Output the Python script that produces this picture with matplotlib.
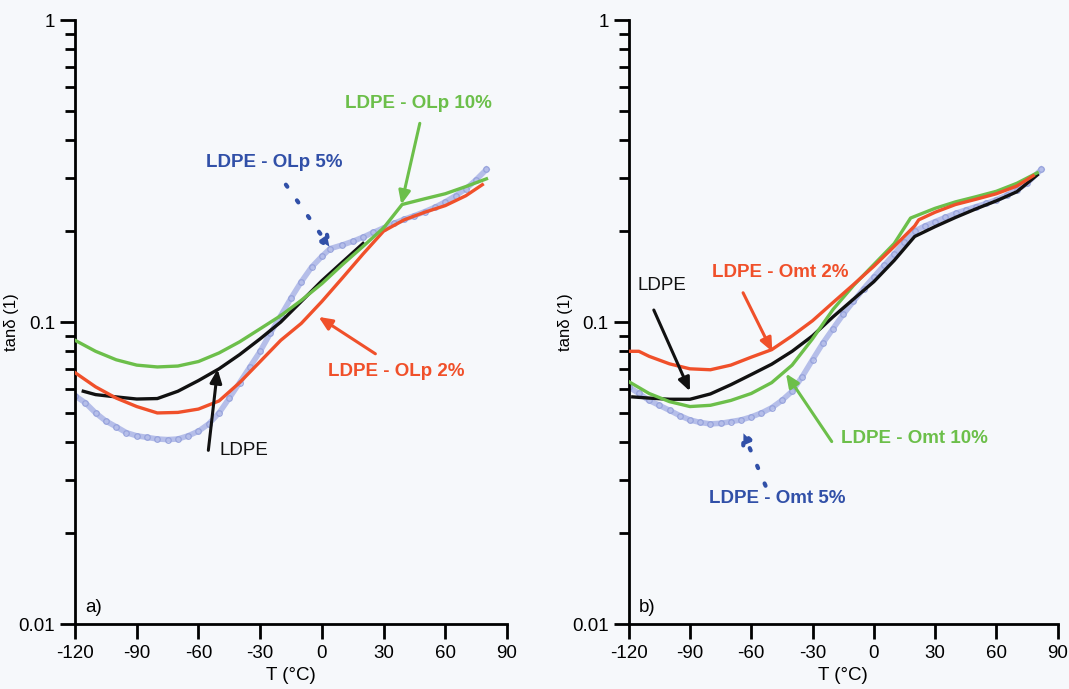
import numpy as np
import matplotlib.pyplot as plt
from matplotlib.ticker import FixedLocator, NullFormatter

plt.rcParams['font.family'] = ['Liberation Sans', 'DejaVu Sans']
plt.rcParams['axes.unicode_minus'] = False

# ---- panel a) : LDPE / OLp ----
T_a_ldpe = [-116, -110, -100, -90, -80, -70, -60, -50, -40, -30, -20, -10, 0, 10, 20]
y_a_ldpe = [0.059, 0.0575, 0.0565, 0.0556, 0.0558, 0.059, 0.064, 0.070, 0.078, 0.088, 0.100, 0.117, 0.137, 0.158, 0.182]

T_a_2 = [-120, -110, -100, -90, -80, -70, -60, -50, -40, -30, -20, -10, 0, 10, 20, 30, 40, 50, 60, 70, 78]
y_a_2 = [0.068, 0.061, 0.056, 0.0525, 0.050, 0.0502, 0.0515, 0.0548, 0.063, 0.074, 0.087, 0.099, 0.117, 0.140, 0.168, 0.200, 0.218, 0.231, 0.243, 0.262, 0.285]

T_a_10 = [-120, -110, -100, -90, -80, -70, -60, -50, -40, -30, -20, -10, 0, 10, 20, 30, 39, 42, 50, 60, 70, 80]
y_a_10 = [0.087, 0.080, 0.075, 0.072, 0.071, 0.0715, 0.074, 0.079, 0.086, 0.095, 0.105, 0.118, 0.134, 0.155, 0.178, 0.205, 0.245, 0.248, 0.256, 0.266, 0.281, 0.298]

T_a_5 = [-120, -115, -110, -105, -100, -95, -90, -85, -80, -75, -70, -65, -60, -55, -50, -45, -40, -35, -30, -25,
         -20, -15, -10, -5, 0, 4, 10, 15, 20, 25, 30, 35, 40, 45, 50, 55, 60, 65, 70, 75, 80]
y_a_5 = [0.057, 0.054, 0.050, 0.047, 0.045, 0.043, 0.042, 0.0415, 0.041, 0.0408, 0.041, 0.042, 0.0435, 0.046, 0.050, 0.056, 0.063, 0.071, 0.080, 0.092,
         0.105, 0.120, 0.136, 0.152, 0.165, 0.175, 0.180, 0.185, 0.191, 0.198, 0.205, 0.212, 0.219, 0.225, 0.232, 0.240, 0.250, 0.262, 0.276, 0.296, 0.320]

# ---- panel b) : LDPE / Omt ----
T_b_ldpe = [-118, -110, -100, -90, -80, -70, -60, -50, -40, -30, -20, -10, 0, 10, 20, 30, 40, 50, 60, 70, 80]
y_b_ldpe = [0.0565, 0.056, 0.0555, 0.0555, 0.0578, 0.062, 0.067, 0.0725, 0.080, 0.090, 0.104, 0.119, 0.136, 0.160, 0.192, 0.207, 0.222, 0.237, 0.252, 0.270, 0.307]

T_b_2 = [-120, -115, -110, -100, -90, -80, -70, -60, -50, -40, -30, -20, -10, 0, 10, 20, 22, 30, 40, 50, 60, 70, 78]
y_b_2 = [0.080, 0.080, 0.077, 0.0727, 0.070, 0.0695, 0.072, 0.0765, 0.081, 0.090, 0.101, 0.116, 0.133, 0.153, 0.178, 0.208, 0.218, 0.231, 0.245, 0.255, 0.266, 0.282, 0.305]

T_b_10 = [-120, -110, -100, -90, -80, -70, -60, -50, -40, -30, -20, -10, 0, 10, 18, 30, 40, 50, 60, 70, 80]
y_b_10 = [0.0635, 0.058, 0.0545, 0.0525, 0.053, 0.055, 0.058, 0.063, 0.072, 0.088, 0.110, 0.132, 0.155, 0.182, 0.221, 0.238, 0.250, 0.260, 0.271, 0.288, 0.312]

T_b_5 = [-120, -115, -110, -105, -100, -95, -90, -85, -80, -75, -70, -65, -60, -55, -50, -45, -40, -35, -30, -25,
         -20, -15, -10, -5, 0, 5, 10, 15, 20, 25, 30, 35, 40, 45, 50, 55, 60, 65, 70, 75, 82]
y_b_5 = [0.061, 0.058, 0.055, 0.053, 0.051, 0.049, 0.0474, 0.0465, 0.046, 0.0462, 0.0468, 0.0474, 0.0485, 0.050, 0.052, 0.055, 0.059, 0.066, 0.075, 0.085,
         0.095, 0.106, 0.117, 0.129, 0.141, 0.154, 0.168, 0.184, 0.200, 0.208, 0.215, 0.222, 0.229, 0.235, 0.241, 0.247, 0.254, 0.263, 0.274, 0.288, 0.320]

green = '#6cbf4a'
red = '#f0502a'
black = '#111111'
lblue = '#b5bee9'
dblue = '#3150a8'
bg = '#f6f8fb'

fig = plt.figure(figsize=(10.69, 6.89), dpi=100, facecolor=bg)
ax1 = fig.add_axes([0.0702, 0.0943, 0.4041, 0.8766])
ax2 = fig.add_axes([0.5881, 0.0943, 0.4013, 0.8766])


def style(ax, xlab):
    ax.set_facecolor(bg)
    ax.set_yscale('log')
    ax.set_xlim(-120, 90)
    ax.set_ylim(0.01, 1)
    ax.set_xticks([-120, -90, -60, -30, 0, 30, 60, 90])
    ax.yaxis.set_major_locator(FixedLocator([0.01, 0.1, 1]))
    ax.set_yticklabels(['0.01', '0.1', '1'])
    ax.yaxis.set_minor_locator(FixedLocator([k * 10.0 ** e for e in (-2, -1) for k in range(2, 10)]))
    ax.yaxis.set_minor_formatter(NullFormatter())
    for s in ('top', 'right'):
        ax.spines[s].set_visible(False)
    for s in ('left', 'bottom'):
        ax.spines[s].set_linewidth(2)
    ax.tick_params(which='major', length=11, width=2, labelsize=13.5, direction='out')
    ax.tick_params(which='minor', length=7, width=2)
    ax.tick_params(axis='x', pad=4)
    ax.set_xlabel(xlab, fontsize=13.5, labelpad=4)
    ax.set_ylabel('tanδ (1)', fontsize=12)
    ax.yaxis.set_label_coords(-0.13, 0.5)


def blue_curve(ax, T, y):
    ax.plot(T, y, '-', color=lblue, lw=4, zorder=2)
    ax.plot(T, y, 'o', ms=4, mfc='none', mec='#97a3dc', mew=0.9, zorder=2)


def arrow(ax, tail, tip, color, ls='-'):
    ax.annotate('', xy=tip, xytext=tail,
                arrowprops=dict(arrowstyle='-|>,head_length=0.8,head_width=0.35',
                                color=color, lw=2.2 if ls == '-' else 3, ls=ls,
                                shrinkA=0, shrinkB=0), zorder=5)


# panel a)
style(ax1, 'T (°C)')
blue_curve(ax1, T_a_5, y_a_5)
ax1.plot(T_a_ldpe, y_a_ldpe, color=black, lw=2.4, zorder=3)
ax1.plot(T_a_2, y_a_2, color=red, lw=2.4, zorder=3)
ax1.plot(T_a_10, y_a_10, color=green, lw=2.4, zorder=3)

ax1.text(47, 0.53, 'LDPE - OLp 10%', color=green, fontsize=13.5, fontweight='bold', ha='center', va='center')
arrow(ax1, (47.6, 0.455), (38.6, 0.245), green)
ax1.text(-23.4, 0.337, 'LDPE - OLp 5%', color=dblue, fontsize=13.5, fontweight='bold', ha='center', va='center')
arrow(ax1, (-17.5, 0.285), (5.1, 0.172), dblue, ls=(0, (0.6, 4)))
ax1.text(36, 0.0686, 'LDPE - OLp 2%', color=red, fontsize=13.5, fontweight='bold', ha='center', va='center')
arrow(ax1, (26, 0.0785), (-1.6, 0.104), red)
ax1.text(-38, 0.0376, 'LDPE', color=black, fontsize=13.5, ha='center', va='center')
arrow(ax1, (-55.2, 0.0376), (-50.7, 0.0698), black)
ax1.text(-115, 0.0113, 'a)', fontsize=13.5, ha='left', va='center')

# panel b)
style(ax2, 'T (°C)')
blue_curve(ax2, T_b_5, y_b_5)
ax2.plot(T_b_ldpe, y_b_ldpe, color=black, lw=2.4, zorder=3)
ax2.plot(T_b_10, y_b_10, color=green, lw=2.4, zorder=3)
ax2.plot(T_b_2, y_b_2, color=red, lw=2.4, zorder=3)

ax2.text(-103.8, 0.132, 'LDPE', color=black, fontsize=13.5, ha='center', va='center')
arrow(ax2, (-107.7, 0.1096), (-90, 0.059), black)
ax2.text(-45.8, 0.146, 'LDPE - Omt 2%', color=red, fontsize=13.5, fontweight='bold', ha='center', va='center')
arrow(ax2, (-64, 0.125), (-49.7, 0.0798), red)
ax2.text(19.8, 0.0411, 'LDPE - Omt 10%', color=green, fontsize=13.5, fontweight='bold', ha='center', va='center')
arrow(ax2, (-20.6, 0.0402), (-43, 0.0675), green)
ax2.text(-47.5, 0.0261, 'LDPE - Omt 5%', color=dblue, fontsize=13.5, fontweight='bold', ha='center', va='center')
arrow(ax2, (-53, 0.0287), (-64.8, 0.0444), dblue, ls=(0, (0.6, 4)))
ax2.text(-115, 0.0113, 'b)', fontsize=13.5, ha='left', va='center')

fig.savefig('out.png', dpi=100, facecolor=bg)
